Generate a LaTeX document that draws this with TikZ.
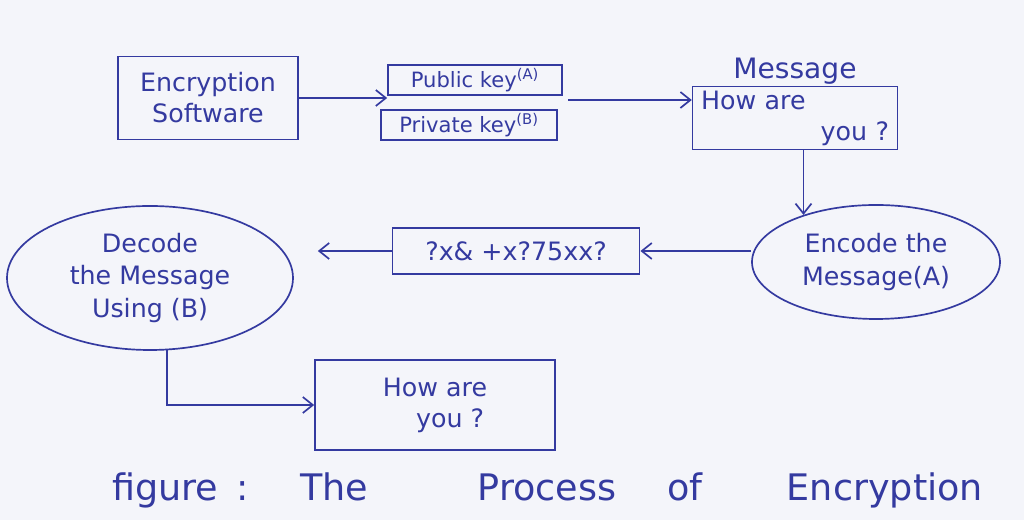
\documentclass[tikz,border=0pt]{standalone}
\usepackage{fontspec}
\setmainfont{DejaVu Sans}
\usetikzlibrary{arrows.meta,positioning,shapes.geometric}
\definecolor{ink}{RGB}{52,58,160}
\definecolor{paper}{RGB}{244,245,250}

\begin{document}
\begin{tikzpicture}[>={Straight Barb[length=2.5mm,width=4mm]},
  box/.style={draw=ink, line width=1.2pt, text=ink, align=center,
     inner sep=3pt, font=\fontsize{18}{22}\selectfont},
  keybox/.style={box, minimum height=7.5mm, inner sep=1pt, font=\fontsize{15}{18}\selectfont},
  blob/.style={ellipse, draw=ink, line width=1.2pt, text=ink, align=center,
     inner sep=0pt, font=\fontsize{18}{23}\selectfont},
  flow/.style={->, ink, line width=1.2pt}]
  \fill[paper] (0,0) rectangle (25.6,13);
  % top row
  \node[box, minimum width=4.5cm, minimum height=2.08cm] (soft) at (5.2,10.55) {Encryption\\Software};
  \node[keybox, minimum width=4.35cm] (pub)  at (11.875,11.0)  {Public key\textsuperscript{(A)}};
  \node[keybox, minimum width=4.4cm]  (priv) at (11.725,9.875) {Private key\textsuperscript{(B)}};
  \node[box, minimum width=5.12cm, minimum height=1.58cm, text width=4.7cm, align=left] (msg) at (19.875,10.05)
       {How are\\\mbox{}\hfill you ?};
  \node[text=ink, inner sep=1pt, font=\fontsize{20}{24}\selectfont, above=0pt of msg] (msgtitle) {Message};
  % middle row
  \node[blob, minimum width=6.2cm, minimum height=2.85cm] (enc) at (21.9,6.45) {Encode the\\Message(A)};
  \node[box, minimum width=6.18cm, minimum height=1.15cm] (cipher) at (12.9,6.725) {?x\& +x?75xx?};
  \node[blob, minimum width=7.15cm, minimum height=3.6cm] (dec) at (3.75,6.05) {Decode\\the Message\\Using (B)};
  % bottom
  \node[box, minimum width=6cm, minimum height=2.25cm] (out) at (10.875,2.875) {How are\\\hspace*{1.2em}you ?};
  \node[text=ink, font=\fontsize{26}{30}\selectfont] (caption) at (13.69,0.75)
       {figure\hspace{0.5em}:\hspace{1.4em}The\hspace{3em}Process\hspace{1.4em}of\hspace{2.3em}Encryption};
  % connectors
  \coordinate (keysout) at (14.2,10.5);
  \draw[flow] (soft.east) -- (soft.east -| pub.west);
  \draw[flow] (keysout) -- (keysout -| msg.west);
  \draw[flow] (msg.south -| enc.147) -- (enc.147);
  \draw[flow] (cipher.east -| enc.west) -- (cipher.east);
  \draw[flow, shorten >=6mm] (cipher.west) -- (cipher.west -| dec.east);
  \draw[flow] (dec.283) |- (out.west);
\end{tikzpicture}
\end{document}
